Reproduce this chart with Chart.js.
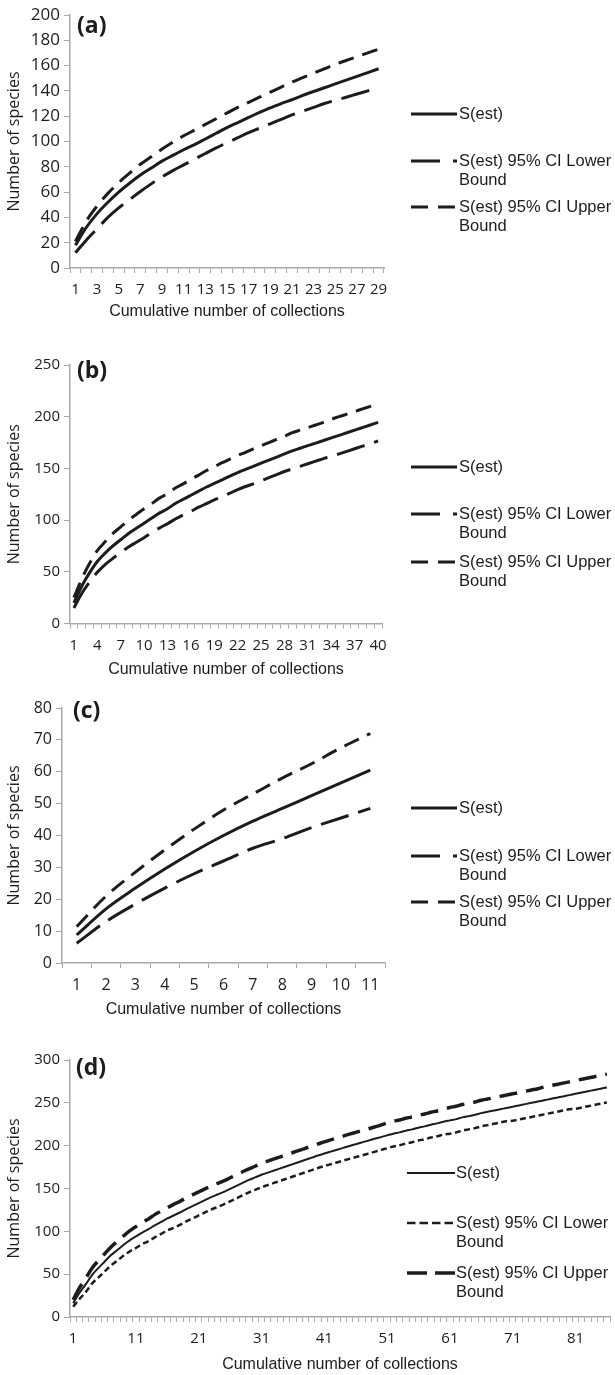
<!DOCTYPE html>
<html>
<head>
<meta charset="utf-8">
<script src="https://cdn.jsdelivr.net/npm/chart.js@4.4.1/dist/chart.umd.min.js"></script>
<style>
  html, body { margin: 0; padding: 0; background: #fff; }
  body { width: 615px; height: 1375px; position: relative; overflow: hidden; }
  canvas { position: absolute; left: 0; }
</style>
</head>
<body>
<canvas id="chartA" width="615" height="330" style="top:0px"></canvas>
<canvas id="chartB" width="615" height="360" style="top:330px"></canvas>
<canvas id="chartC" width="615" height="330" style="top:690px"></canvas>
<canvas id="chartD" width="615" height="355" style="top:1020px"></canvas>
<script>
const seriesNames = ['S(est)', 'S(est) 95% CI Lower Bound', 'S(est) 95% CI Upper Bound'];
const legendLines = [['S(est)'], ['S(est) 95% CI Lower', 'Bound'], ['S(est) 95% CI Upper', 'Bound']];

// (a)
const catsA = [1,2,3,4,5,6,7,8,9,10,11,12,13,14,15,16,17,18,19,20,21,22,23,24,25,26,27,28,29];
const ticksA = ['1','3','5','7','9','11','13','15','17','19','21','23','25','27','29'];
const estA = [18,32,43,52,60,67,73.5,79,84.5,89,93.5,97.5,102,106.5,111,115,119,123,126.5,130,133,136.5,139.5,142.5,145.5,148.5,151.5,154.5,157.5];
const lowA = [12,22,31,40,47.5,54,60.5,66.5,72,77,81.5,86,90.5,95,99,103,107,110.5,114,117.5,121,124,127,130,132.5,135,137.5,140,142.5];
const upA = [21,37,49,59,67.5,75,82,88,94,99.5,104.5,109,113.5,118,122.5,127,131,135,139,143,147,150.5,154,157.5,161,164,167,170,173];

// (b)
const catsB = [1,2,3,4,5,6,7,8,9,10,11,12,13,14,15,16,17,18,19,20,21,22,23,24,25,26,27,28,29,30,31,32,33,34,35,36,37,38,39,40];
const ticksB = ['1','4','7','10','13','16','19','22','25','28','31','34','37','40'];
const estB = [20,36,49,60,68,75,81,87,92,97,102,107,111,116,120,124,128,132,135.5,139,142.5,146,149,152,155,158,161,164,167,169.5,172,174.5,177,179.5,182,184.5,187,189.5,192,194.5];
const lowB = [15,29,40,49.5,57,63,68.5,74,78.5,83,88,92.5,96.5,101,105,108.5,112.5,116,119.5,122.5,126,129.5,132.5,135,138,141,144,147,149.5,152,154.5,157,159.5,161.5,164,166.5,169,171.5,174,176.5];
const upB = [25,43,58,70.5,79,87,93.5,100,105.5,111,116,121.5,125.5,131,135,139.5,143.5,148,151.5,155.5,159,162.5,165.5,169,172,175,178,181,184.5,187,189.5,192,194.5,197.5,200,202.5,205,207.5,210,212.5];

// (c)
const catsC = [1,2,3,4,5,6,7,8,9,10,11];
const ticksC = ['1','2','3','4','5','6','7','8','9','10','11'];
const estC = [8.8,17,23.5,29.5,35,40,44.5,48.5,52.5,56.5,60.5];
const lowC = [6.2,13,18.5,23.5,28,32,36,39,42.5,45.5,48.5];
const upC = [11.4,21,28.5,35.5,42,48,53,58,62.5,67.5,72];

// (d)
const catsD = [1,2,3,4,5,6,7,8,9,10,11,12,13,14,15,16,17,18,19,20,21,22,23,24,25,26,27,28,29,30,
  31,32,33,34,35,36,37,38,39,40,41,42,43,44,45,46,47,48,49,50,51,52,53,54,55,56,57,58,59,60,
  61,62,63,64,65,66,67,68,69,70,71,72,73,74,75,76,77,78,79,80,81,82,83,84,85,86];
const ticksD = ['1','11','21','31','41','51','61','71','81'];
const estD = [16,28,38,49,57,64.5,72,78,84,89.5,94,98.5,102.5,107,111,115,118.5,122,126,129.5,
  133,136.5,140,143,146,149.5,153,156.5,160,163,166,168.5,171,173.5,176,178.5,181,183.5,186,188.5,
  190.8,193,195.2,197.4,199.6,201.7,203.8,205.9,208,210,212,214,215.5,217.5,219,221,222.5,224.5,226,228,
  229.5,231,233,234.5,236,238,239.5,241,242.5,244,245.5,247,248.5,250,251.5,253,254.5,256,257.5,259,
  260.5,262,263.5,265,266.5,268];
const lowD = [12,21,29,39,46,53,60,65.5,71.5,76.5,80.5,85,88.5,93,97,101,104,107.5,111.5,115,
  118.5,122,125.5,128.5,131.5,135,138.5,142,145.5,148.5,151.5,154,156.5,159,161.5,164,166.5,169,171.5,174,
  176.2,178.3,180.4,182.5,184.6,186.6,188.6,190.7,192.8,195,197,199,200.5,202.5,204,206,207.5,209.5,211,213,
  214,215.5,217.5,219,220.5,222.5,224,225.5,227,228.5,229,230.5,232,233.5,235,236.5,238,239.5,241,242.5,
  243,244.5,246,247.5,249,250.5];
const upD = [20,34,45,57,65.5,73.5,81.5,88,94.5,100.5,105.5,110.5,114.5,119.5,123.5,127.5,131.5,135,139,142.5,
  146,149.5,153,156,159,162.5,166,169.5,173,176,179.5,182,184.5,187,189.5,192,194.5,197,199.5,202,
  204.5,206.8,209,211.2,213.4,215.5,217.6,219.7,221.8,224,226.5,228.5,230,232,233.5,235.5,237,239,240.5,242.5,
  244.5,246,248,249.5,251,253,254.5,256,257.5,259,260.5,262,263.5,265,266.5,268.5,270,271.5,273,274.5,
  276,277.5,279,280.5,282,283.5];

const axisGray = '#a9a9a9';
const ink = '#1c1c1c';

// panel letter and the Excel-style legend on the right
const panelDecor = {
  id: 'panelDecor',
  afterDraw(chart, args, opts) {
    const ctx = chart.ctx;
    ctx.save();
    ctx.fillStyle = ink;
    ctx.textBaseline = 'middle';
    ctx.font = 'bold 23px "Open Sans"';
    ctx.fillText(opts.letter, opts.letterX, opts.letterY);

    ctx.font = '16.5px "Liberation Sans"';
    chart.data.datasets.forEach((ds, i) => {
      const y = opts.legendY[i];
      ctx.beginPath();
      ctx.setLineDash(opts.legendDash[i]);
      ctx.lineWidth = ds.borderWidth;
      ctx.strokeStyle = ds.borderColor;
      ctx.moveTo(opts.legendX, y);
      ctx.lineTo(opts.legendX + opts.sampleWidth, y);
      ctx.stroke();
      ctx.setLineDash([]);
      legendLines[i].forEach((t, k) => ctx.fillText(t, opts.textX, y + k * 19.5));
    });
    ctx.restore();
  }
};

function makePanel(id, cats, shown, est, low, up, p) {
  const series = [est, low, up];
  new Chart(document.getElementById(id), {
    type: 'line',
    data: {
      labels: cats,
      datasets: series.map((vals, i) => ({
        label: seriesNames[i],
        data: vals,
        borderColor: ink,
        borderWidth: p.widths[i],
        borderDash: p.dashes[i],
        pointRadius: 0,
        cubicInterpolationMode: 'monotone',
        fill: false
      }))
    },
    options: {
      responsive: false,
      animation: false,
      events: [],
      layout: { padding: { top: p.top, right: p.right, left: 0, bottom: 0 } },
      scales: {
        x: {
          type: 'category',
          offset: true,
          afterFit(scale) { scale.height = p.xHeight; },
          grid: { offset: true, drawOnChartArea: false, drawTicks: true, tickLength: 5, color: axisGray, lineWidth: 1 },
          border: { color: axisGray, width: 1.5 },
          ticks: {
            autoSkip: false,
            maxRotation: 0,
            padding: 8,
            color: ink,
            font: { family: '"Open Sans"', size: p.xTickSize },
            callback(value) {
              const lab = String(this.getLabelForValue(value));
              return shown.includes(lab) ? lab : '';
            }
          },
          title: {
            display: true,
            text: 'Cumulative number of collections',
            color: ink,
            font: { family: '"Liberation Sans"', size: 16 },
            padding: { top: 0, bottom: p.titlePad }
          }
        },
        y: {
          min: 0,
          max: p.yMax,
          afterFit(scale) { scale.width = p.yWidth; },
          grid: { drawOnChartArea: false, drawTicks: true, tickLength: 6, color: axisGray, lineWidth: 1 },
          border: { color: axisGray, width: 1.5 },
          ticks: {
            stepSize: p.yStep,
            padding: 4,
            color: ink,
            font: { family: '"Open Sans"', size: p.yTickSize }
          },
          title: {
            display: true,
            text: 'Number of species',
            color: ink,
            font: { family: '"Open Sans"', size: 16 },
            padding: { top: 5, bottom: 0 }
          }
        }
      },
      plugins: {
        legend: { display: false },
        tooltip: { enabled: false },
        panelDecor: {
          letter: p.letter, letterX: p.letterX, letterY: p.letterY,
          legendX: p.legendX, textX: p.textX, sampleWidth: p.sampleWidth,
          legendY: p.legendY, legendDash: p.legendDash
        }
      }
    },
    plugins: [panelDecor]
  });
}

makePanel('chartA', catsA, ticksA, estA, lowA, upA, {
  top: 15, right: 231, xHeight: 62, yWidth: 70, yMax: 200, yStep: 20,
  xTickSize: 15, yTickSize: 17, titlePad: 8.4,
  letter: '(a)', letterX: 77, letterY: 26,
  legendX: 411, textX: 459, sampleWidth: 46, legendY: [114, 161, 207],
  widths: [3, 3, 3], dashes: [[], [29, 10], [16, 9]], legendDash: [[], [29, 13], [17, 10]]
});

makePanel('chartB', catsB, ticksB, estB, lowB, upB, {
  top: 35, right: 233, xHeight: 66.5, yWidth: 70, yMax: 250, yStep: 50,
  xTickSize: 15, yTickSize: 15, titlePad: 10.4,
  letter: '(b)', letterX: 77, letterY: 41,
  legendX: 411, textX: 459, sampleWidth: 46, legendY: [137, 184, 232],
  widths: [3, 3, 3], dashes: [[], [29, 10], [16, 9]], legendDash: [[], [29, 13], [17, 10]]
});

makePanel('chartC', catsC, ticksC, estC, lowC, upC, {
  top: 18, right: 230, xHeight: 57, yWidth: 62, yMax: 80, yStep: 10,
  xTickSize: 16, yTickSize: 16, titlePad: 0.4,
  letter: '(c)', letterX: 73, letterY: 21,
  legendX: 411, textX: 459, sampleWidth: 46, legendY: [118, 166, 212],
  widths: [3, 3, 3], dashes: [[], [29, 10], [16, 9]], legendDash: [[], [29, 13], [17, 10]]
});

makePanel('chartD', catsD, ticksD, estD, lowD, upD, {
  top: 40, right: 5, xHeight: 58, yWidth: 70, yMax: 300, yStep: 50,
  xTickSize: 15, yTickSize: 15, titlePad: 0.4,
  letter: '(d)', letterX: 76, letterY: 48,
  legendX: 407, textX: 456, sampleWidth: 48, legendY: [153, 203, 253],
  widths: [2, 2.5, 3.5], dashes: [[], [6, 3.5], [18, 9]], legendDash: [[], [8.5, 4], [20, 8]]
});
</script>
</body>
</html>
